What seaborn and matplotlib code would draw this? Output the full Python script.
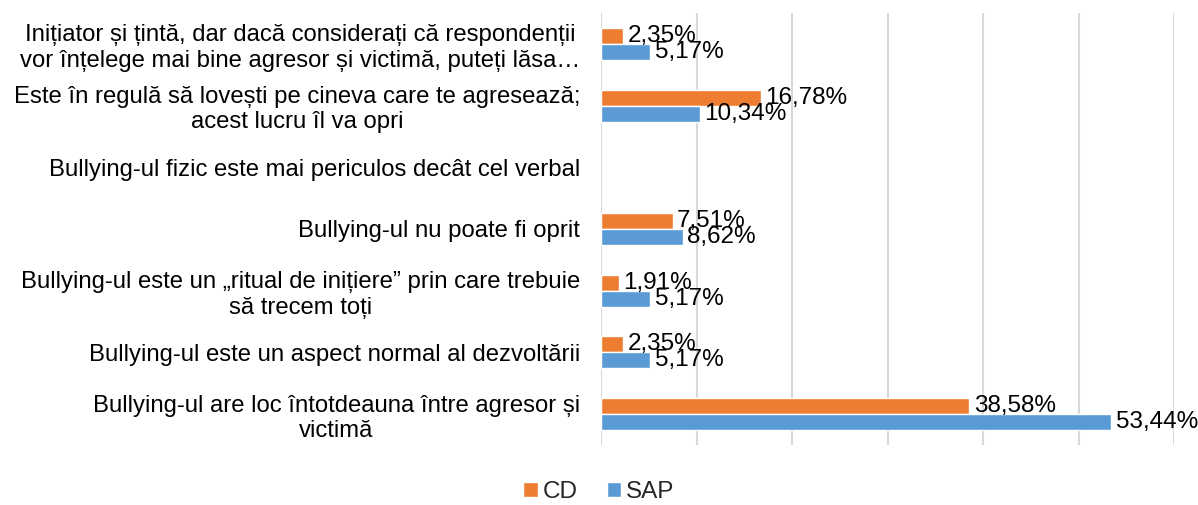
import numpy as np
import pandas as pd
import seaborn as sns
import matplotlib.pyplot as plt
from matplotlib.patches import Patch

# categories, top to bottom as drawn
categories = [
    "Inițiator și țintă, dar dacă considerați că respondenții\nvor înțelege mai bine agresor și victimă, puteți lăsa…",
    "Este în regulă să lovești pe cineva care te agresează;\nacest lucru îl va opri",
    "Bullying-ul fizic este mai periculos decât cel verbal",
    "Bullying-ul nu poate fi oprit",
    "Bullying-ul este un „ritual de inițiere” prin care trebuie\nsă trecem toți",
    "Bullying-ul este un aspect normal al dezvoltării",
    "Bullying-ul are loc întotdeauna între agresor și\nvictimă",
]
cd_values = [2.35, 16.78, np.nan, 7.51, 1.91, 2.35, 38.58]
sap_values = [5.17, 10.34, np.nan, 8.62, 5.17, 5.17, 53.44]
series = ["CD", "SAP"]
colors = {"CD": "#ED7D31", "SAP": "#5B9BD5"}

df = pd.DataFrame({
    "categorie": categories * 2,
    "valoare": cd_values + sap_values,
    "serie": ["CD"] * len(categories) + ["SAP"] * len(categories),
})

sns.set_style("white")
plt.rcParams['font.family'] = ['Liberation Sans', 'DejaVu Sans']

fig = plt.figure(figsize=(11.98, 5.05), dpi=100)
ax = fig.add_axes([601 / 1198, 1 - 445 / 505, 573 / 1198, 432 / 505])

sns.barplot(data=df, x="valoare", y="categorie", hue="serie", order=categories,
            hue_order=series, palette=colors, orient="h", width=0.52,
            saturation=1, legend=False, ax=ax)

# data labels
for cont in ax.containers:
    labels = ["" if np.isnan(v) else f"{v:.2f}%".replace(".", ",") for v in cont.datavalues]
    ax.bar_label(cont, labels=labels, padding=3, fontsize=17.5, color="#000000")

ax.set_xlim(0, 60)
ax.set_xticks(np.arange(0, 61, 10))
ax.set_xticklabels([])
ax.grid(axis="x", color="#D9D9D9", linewidth=1.5)
ax.set_axisbelow(True)
for s in ax.spines.values():
    s.set_visible(False)
ax.tick_params(axis="both", length=0)
ax.tick_params(axis="y", pad=15, labelsize=17.2, labelcolor="#000000")
for t in ax.get_yticklabels():
    t.set_multialignment("center")
ax.set_xlabel("")
ax.set_ylabel("")

handles = [Patch(facecolor=colors[s], label=s) for s in series]
fig.legend(handles=handles, loc="center", bbox_to_anchor=(0.5, 1 - 492 / 505), ncol=2,
           frameon=False, fontsize=17.5, handlelength=0.6, handleheight=0.6,
           handletextpad=0.2, columnspacing=1.2)

plt.savefig("out.png", dpi=100)
